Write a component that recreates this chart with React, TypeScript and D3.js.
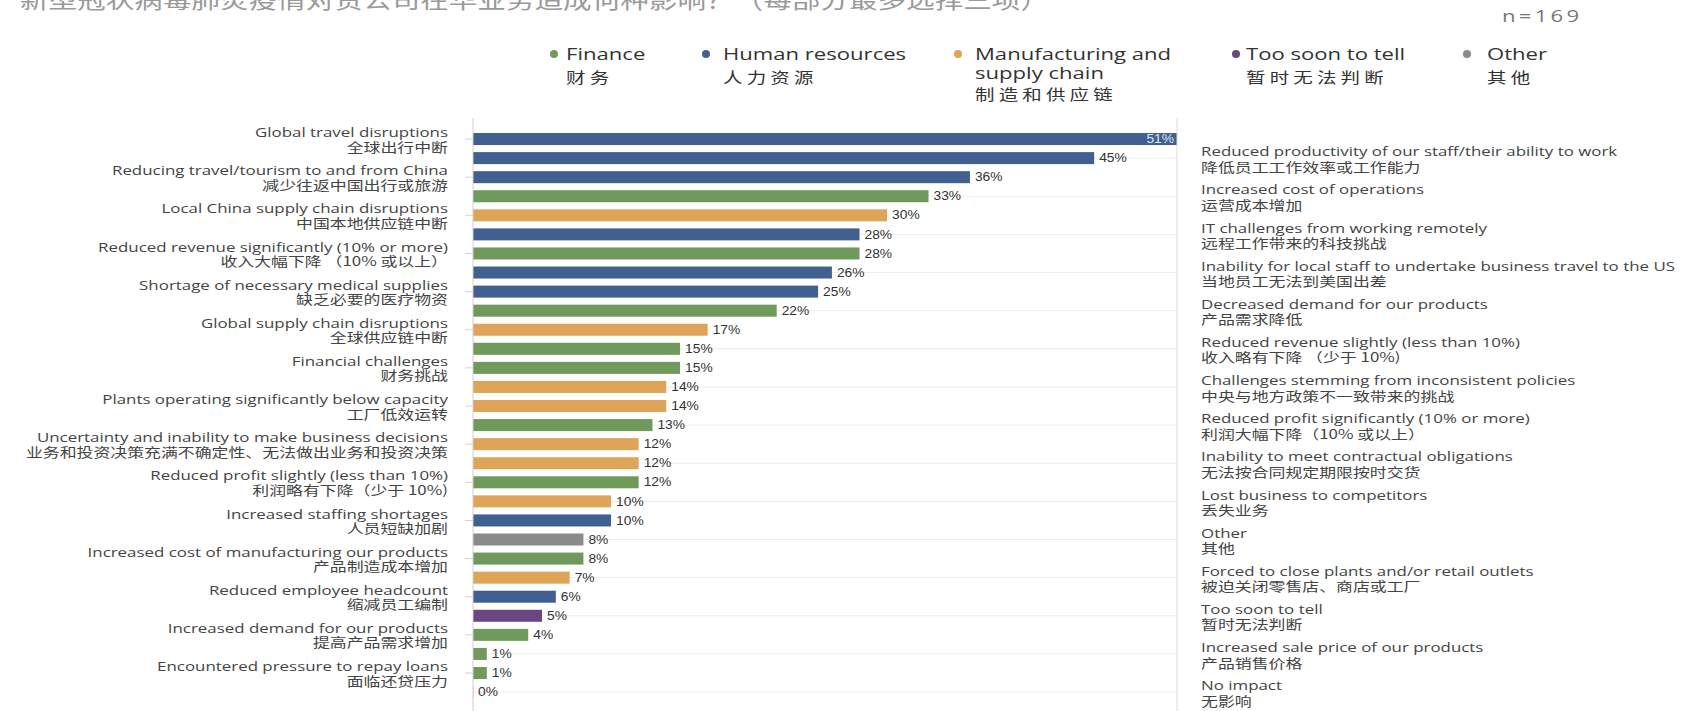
import React from "react";
import * as d3 from "d3";

const labelsEn = [
  "Global travel disruptions",
  "Reduced productivity of our staff/their ability to work",
  "Reducing travel/tourism to and from China",
  "Increased cost of operations",
  "Local China supply chain disruptions",
  "IT challenges from working remotely",
  "Reduced revenue significantly (10% or more)",
  "Inability for local staff to undertake business travel to the US",
  "Shortage of necessary medical supplies",
  "Decreased demand for our products",
  "Global supply chain disruptions",
  "Reduced revenue slightly (less than 10%)",
  "Financial challenges",
  "Challenges stemming from inconsistent policies",
  "Plants operating significantly below capacity",
  "Reduced profit significantly (10% or more)",
  "Uncertainty and inability to make business decisions",
  "Inability to meet contractual obligations",
  "Reduced profit slightly (less than 10%)",
  "Lost business to competitors",
  "Increased staffing shortages",
  "Other",
  "Increased cost of manufacturing our products",
  "Forced to close plants and/or retail outlets",
  "Reduced employee headcount",
  "Too soon to tell",
  "Increased demand for our products",
  "Increased sale price of our products",
  "Encountered pressure to repay loans",
  "No impact",
];

const labelsZh = [
  "全球出行中断",
  "降低员工工作效率或工作能力",
  "减少往返中国出行或旅游",
  "运营成本增加",
  "中国本地供应链中断",
  "远程工作带来的科技挑战",
  "收入大幅下降 （10% 或以上）",
  "当地员工无法到美国出差",
  "缺乏必要的医疗物资",
  "产品需求降低",
  "全球供应链中断",
  "收入略有下降 （少于 10%)",
  "财务挑战",
  " 中央与地方政策不一致带来的挑战",
  "工厂低效运转",
  "利润大幅下降（10% 或以上）",
  "业务和投资决策充满不确定性、无法做出业务和投资决策",
  "无法按合同规定期限按时交货",
  "利润略有下降（少于 10%)",
  "丢失业务",
  "人员短缺加剧",
  "其他",
  "产品制造成本增加",
  "被迫关闭零售店、商店或工厂",
  "缩减员工编制",
  "暂时无法判断",
  "提高产品需求增加",
  "产品销售价格",
  "面临还贷压力",
  "无影响",
];

const values = [51, 45, 36, 33, 30, 28, 28, 26, 25, 22, 17, 15, 15, 14, 14, 13, 12, 12, 12, 10, 10, 8, 8, 7, 6, 5, 4, 1, 1, 0];

const groups = [
  "hr", "hr", "hr", "fin", "mfg", "hr", "fin", "hr", "hr", "fin",
  "mfg", "fin", "fin", "mfg", "mfg", "fin", "mfg", "mfg", "fin", "mfg",
  "hr", "other", "fin", "mfg", "hr", "soon", "fin", "fin", "fin", "fin",
];

const legendKeys = ["fin", "hr", "mfg", "soon", "other"];
const legendEn = [["Finance"], ["Human resources"], ["Manufacturing and", "supply chain"], ["Too soon to tell"], ["Other"]];
const legendZh = ["财务", "人力资源", "制造和供应链", "暂时无法判断", "其他"];
const legendX = [554, 706, 958, 1236, 1467];
const legendGap = [12, 17, 17, 10, 20];

const colorOf: Record<string, string> = {
  fin: "#6f9a5b",
  hr: "#415f8f",
  mfg: "#dea458",
  soon: "#6a4784",
  other: "#8a8a8a",
};

const titleText = "新型冠状病毒肺炎疫情对贵公司在华业务造成何种影响？（每部分最多选择三项）";
const nText = "n=169";

const W = 1701;
const H = 711;
const EN = "'Open Sans', 'Noto Sans', sans-serif";
const ZH = "'Noto Sans CJK SC', 'Noto Sans', sans-serif";
const SX = 1.3;

export default function App() {
  const x = d3.scaleLinear().domain([0, 51]).range([473, 1177]);
  const idx = values.map((_, i) => i);
  const y = d3
    .scaleBand<number>()
    .domain(idx)
    .range([129.5, 129.5 + 30 * 19.07])
    .paddingInner(0.37)
    .paddingOuter(0.185);
  const cy = (i: number) => (y(i) as number) + y.bandwidth() / 2;

  return (
    <svg
      width={W}
      height={H}
      style={{ position: "absolute", top: 0, left: 0, background: "#fff" }}
    >
      <rect x={0} y={0} width={W} height={H} fill="#fff" />
      {/* title (clipped at top) */}
      <text
        transform={`translate(20,8) scale(${SX},1)`}
        fontFamily={ZH}
        fontSize={22}
        fill="#9a9a9a"
      >
        {titleText}
      </text>
      <text
        transform={`translate(1502,22) scale(${SX},1)`}
        fontFamily={EN}
        fontSize={17}
        letterSpacing={2.5}
        fill="#777"
      >
        {nText}
      </text>

      {/* legend */}
      {legendKeys.map((k, li) => {
        const tx = legendX[li] + legendGap[li];
        return (
          <g key={k}>
            <circle cx={legendX[li]} cy={54} r={4} fill={colorOf[k]} />
            {legendEn[li].map((t, j) => (
              <text
                key={j}
                transform={`translate(${tx},${54 + j * 19}) scale(${SX},1)`}
                fontFamily={EN}
                fontSize={17}
                dominantBaseline="central"
                fill="#333"
              >
                {t}
              </text>
            ))}
            <text
              transform={`translate(${tx},${legendEn[li].length === 1 ? 77 : 94}) scale(${SX},1)`}
              fontFamily={ZH}
              fontSize={15}
              letterSpacing={3.2}
              dominantBaseline="central"
              fill="#333"
            >
              {legendZh[li]}
            </text>
          </g>
        );
      })}

      {/* gridlines at even rows */}
      {idx
        .filter((i) => i % 2 === 1)
        .map((i) => (
          <line key={"g" + i} x1={x(0)} x2={x(51)} y1={cy(i)} y2={cy(i)} stroke="#ececec" strokeWidth={1} />
        ))}
      {/* ticks at odd rows */}
      {idx
        .filter((i) => i % 2 === 0)
        .map((i) => (
          <line key={"t" + i} x1={x(0) - 8} x2={x(0)} y1={cy(i)} y2={cy(i)} stroke="#d4d4d4" strokeWidth={1} />
        ))}

      {/* bars */}
      {idx.map((i) => (
        <rect
          key={"b" + i}
          x={x(0)}
          y={y(i)}
          width={Math.max(1, x(values[i]) - x(0))}
          height={y.bandwidth()}
          fill={values[i] === 0 ? "#cfcfcf" : colorOf[groups[i]]}
        />
      ))}

      {/* axes */}
      <line x1={x(0)} x2={x(0)} y1={118} y2={H} stroke="#d0d0d0" strokeWidth={1} />
      <line x1={x(51)} x2={x(51)} y1={118} y2={H} stroke="#dcdcdc" strokeWidth={1} />

      {/* value labels */}
      {idx.map((i) => {
        const inside = values[i] >= 50;
        const px = inside ? x(values[i]) - 3 : x(values[i]) + 5;
        return (
          <text
            key={"v" + i}
            transform={`translate(${px},${cy(i)}) scale(1.15,1)`}
            textAnchor={inside ? "end" : "start"}
            dominantBaseline="central"
            fontFamily="'Liberation Sans', Arial, sans-serif"
            fontSize={12}
            fill={inside ? "#dce6f4" : "#333"}
          >
            {values[i] + "%"}
          </text>
        );
      })}

      {/* left labels (odd rows) */}
      {idx
        .filter((i) => i % 2 === 0)
        .map((i) => (
          <g key={"l" + i}>
            <text
              transform={`translate(448,${cy(i) - 7}) scale(${SX},1)`}
              textAnchor="end"
              dominantBaseline="central"
              fontFamily={EN}
              fontSize={13}
              fill="#444"
            >
              {labelsEn[i]}
            </text>
            <text
              transform={`translate(448,${cy(i) + 7}) scale(${SX},1)`}
              textAnchor="end"
              dominantBaseline="central"
              fontFamily={ZH}
              fontSize={13}
              fill="#444"
            >
              {labelsZh[i]}
            </text>
          </g>
        ))}

      {/* right labels (even rows) */}
      {idx
        .filter((i) => i % 2 === 1)
        .map((i) => (
          <g key={"r" + i}>
            <text
              transform={`translate(1201,${cy(i) - 7}) scale(${SX},1)`}
              dominantBaseline="central"
              fontFamily={EN}
              fontSize={13}
              fill="#444"
            >
              {labelsEn[i]}
            </text>
            <text
              transform={`translate(1201,${cy(i) + 8}) scale(${SX},1)`}
              dominantBaseline="central"
              fontFamily={ZH}
              fontSize={13}
              fill="#444"
            >
              {labelsZh[i]}
            </text>
          </g>
        ))}
    </svg>
  );
}
